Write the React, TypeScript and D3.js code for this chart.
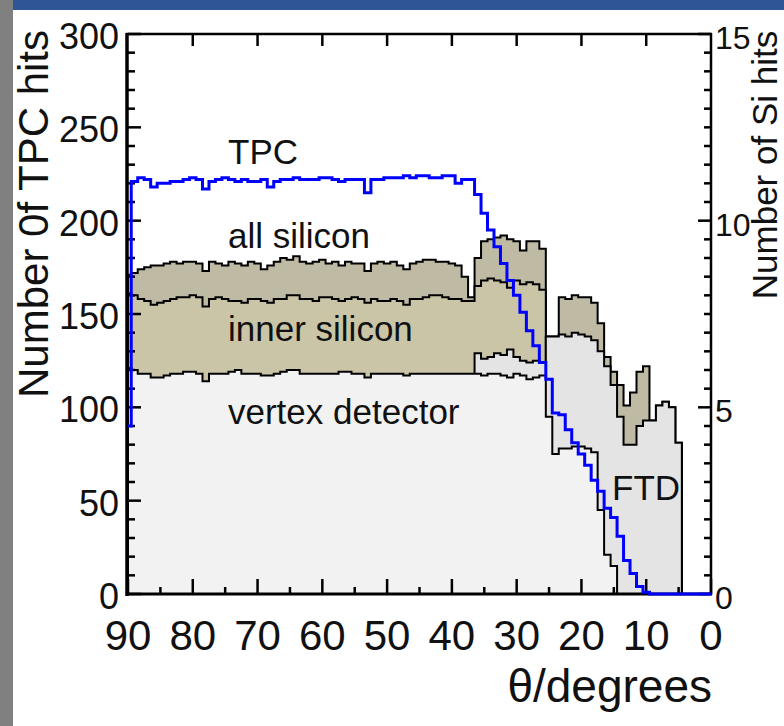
import React from "react";
import * as d3 from "d3";

// theta bin centres, 90 down to 0 (1 degree bins)
const thetas: number[] = d3.range(90, -1, -1);

// values per bin, theta = 90 ... 0
const tpcHits = [
  90,
  221, 223, 222, 218, 220, 220, 221, 221, 222, 223,
  222, 217, 221, 222, 223, 222, 221, 222, 221, 221,
  222, 218, 221, 222, 222, 223, 222, 222, 222, 223,
  223, 222, 221, 222, 222, 222, 215, 222, 222, 223,
  223, 223, 224, 223, 224, 224, 223, 223, 224, 224,
  220, 222, 222, 214, 204, 195, 186, 177, 168, 160,
  151, 141, 133, 124, 115, 97, 96, 88, 81, 75,
  69, 61, 55, 46, 41, 31, 18, 11, 4, 1,
  0, 0, 0, 0, 0, 0, 0, 0, 0, 0,
];

const allSilicon = [
  171,
  172, 174, 175, 176, 176, 177, 178, 177, 178, 178,
  177, 173, 178, 177, 176, 178, 177, 176, 178, 177,
  174, 176, 178, 180, 179, 181, 178, 177, 178, 179,
  177, 178, 176, 178, 177, 177, 173, 177, 178, 177,
  178, 176, 174, 177, 178, 179, 179, 178, 178, 177,
  176, 170, 159, 180, 189, 190, 191, 192, 190, 189,
  184, 189, 189, 185, 138, 138, 159, 158, 160, 159,
  159, 156, 145, 127, 119, 112, 101, 108, 119, 122,
  93, 101, 103, 100, 81, 0, 0, 0, 0, 0,
];

const innerSilicon = [
  161,
  160, 158, 157, 155, 156, 157, 158, 159, 159, 160,
  159, 154, 158, 159, 158, 157, 157, 156, 158, 158,
  157, 156, 158, 158, 160, 160, 158, 158, 157, 159,
  159, 158, 157, 158, 159, 158, 156, 158, 157, 157,
  158, 157, 155, 158, 158, 159, 160, 160, 159, 158,
  158, 157, 157, 165, 168, 169, 168, 167, 164, 168,
  166, 167, 166, 163, 0, 0, 0, 0, 0, 0,
  0, 0, 0, 0, 0, 0, 0, 0, 0, 0,
  0, 0, 0, 0, 0, 0, 0, 0, 0, 0,
];

const ftdHits = [
  0,
  0, 0, 0, 0, 0, 0, 0, 0, 0, 0,
  0, 0, 0, 0, 0, 0, 0, 0, 0, 0,
  0, 0, 0, 0, 0, 0, 0, 0, 0, 0,
  0, 0, 0, 0, 0, 0, 0, 0, 0, 0,
  0, 0, 0, 0, 0, 0, 0, 0, 0, 0,
  0, 0, 0, 129, 126, 127, 129, 128, 131, 127,
  125, 124, 125, 124, 138, 138, 139, 138, 140, 139,
  138, 136, 130, 122, 112, 95, 80, 80, 90, 93,
  93, 101, 103, 100, 81, 0, 0, 0, 0, 0,
];

const vertexHits = [
  121,
  120, 118, 118, 116, 116, 117, 118, 118, 119, 119,
  118, 114, 118, 118, 118, 119, 120, 118, 118, 118,
  117, 117, 118, 119, 120, 120, 118, 118, 118, 118,
  118, 118, 119, 119, 118, 118, 116, 118, 118, 118,
  118, 118, 117, 118, 118, 118, 118, 118, 118, 118,
  118, 118, 118, 118, 117, 118, 118, 117, 116, 118,
  117, 115, 116, 117, 95, 75, 78, 78, 79, 79,
  78, 76, 45, 21, 15, 0, 0, 0, 0, 0,
  0, 0, 0, 0, 0, 0, 0, 0, 0, 0,
];

const xTicks = [90, 80, 70, 60, 50, 40, 30, 20, 10, 0];
const yTicks = [0, 50, 100, 150, 200, 250, 300];
const siTicks = [0, 5, 10, 15];

const labels = [
  { text: "TPC", x: 228, y: 164 },
  { text: "all silicon", x: 228, y: 248 },
  { text: "inner silicon", x: 228, y: 341 },
  { text: "vertex detector", x: 228, y: 424 },
  { text: "FTD", x: 612, y: 500 },
];

const FONT = "'Liberation Sans', Arial, Helvetica, sans-serif";

export default function App() {
  const x = d3.scaleLinear().domain([90, 0]).range([128, 711]);
  const y = d3.scaleLinear().domain([0, 300]).range([594, 34]);
  const ySi = d3.scaleLinear().domain([0, 15]).range([594, 34]);
  const line = d3.line<[number, number]>();

  const stepPoints = (vals: number[]): [number, number][] => {
    const pts: [number, number][] = [];
    thetas.forEach((t, i) => {
      const hi = Math.min(90, t + 0.5);
      const lo = Math.max(0, t - 0.5);
      pts.push([x(hi), y(vals[i])]);
      pts.push([x(lo), y(vals[i])]);
    });
    return pts;
  };
  const areaPath = (vals: number[]) =>
    line([[x(90), y(0)], ...stepPoints(vals), [x(0), y(0)]]) + "Z";

  const fills = [
    { vals: allSilicon, color: "#bebaa4" },
    { vals: innerSilicon, color: "#cbc5a7" },
    { vals: ftdHits, color: "#e4e4e4" },
    { vals: vertexHits, color: "#f2f2f2" },
  ];

  const bottomTicks = d3.range(0, 91, 5);
  const topTicks = d3.range(10, 90, 10);
  const leftTicks = d3.range(0, 301, 10);
  const rightTicks = d3.range(0, 15.01, 0.5);

  return (
    <div style={{ position: "absolute", left: 0, top: 0 }}>
      <svg width={784} height={726} style={{ display: "block", background: "#fff" }}>
        <rect x={0} y={0} width={13} height={726} fill="#808080" />
        <rect x={13} y={0} width={771} height={10} fill="#2f5597" />

        {fills.map((f, i) => (
          <path key={i} d={areaPath(f.vals)} fill={f.color} stroke="#000" strokeWidth={2} strokeLinejoin="miter" />
        ))}

        {/* frame */}
        <line x1={127} x2={127} y1={33} y2={596} stroke="#000" strokeWidth={3.5} />
        <line x1={126} x2={712} y1={594} y2={594} stroke="#000" strokeWidth={3} />
        <line x1={711} x2={711} y1={33} y2={595} stroke="#000" strokeWidth={2.5} />
        <line x1={126} x2={712} y1={34} y2={34} stroke="#000" strokeWidth={2.5} />

        {bottomTicks.map((t) => (
          <line key={"b" + t} x1={x(t)} x2={x(t)} y1={594} y2={594 - (t % 10 === 0 ? 15 : 7)} stroke="#000" strokeWidth={2.5} />
        ))}
        {topTicks.map((t) => (
          <line key={"t" + t} x1={x(t)} x2={x(t)} y1={34} y2={46} stroke="#000" strokeWidth={2.5} />
        ))}
        {leftTicks.map((v) => (
          <line key={"l" + v} x1={128} x2={128 + (v % 50 === 0 ? 13 : 7)} y1={y(v)} y2={y(v)} stroke="#000" strokeWidth={2.5} />
        ))}
        {rightTicks.map((s) => (
          <line key={"r" + s} x1={711} x2={711 - (s % 5 === 0 ? 13 : 7)} y1={ySi(s)} y2={ySi(s)} stroke="#000" strokeWidth={2.5} />
        ))}

        <path d={line(stepPoints(tpcHits)) || ""} fill="none" stroke="#0000ff" strokeWidth={3} />

        <g fontFamily={FONT} fill="#111">
          {yTicks.map((v) => (
            <text key={"yl" + v} x={119} y={y(v) + 15} fontSize={36} textAnchor="end">{v}</text>
          ))}
          {siTicks.map((s) => (
            <text key={"sl" + s} x={715} y={ySi(s) + 15} fontSize={32} textAnchor="start">{s}</text>
          ))}
          {xTicks.map((t) => (
            <text key={"xl" + t} x={x(t)} y={650} fontSize={42} textAnchor="middle">{t}</text>
          ))}
          <text x={712} y={702} fontSize={46} textAnchor="end">θ/degrees</text>
          <text transform="translate(48,214) rotate(-90)" fontSize={42} textAnchor="middle">Number 0f TPC hits</text>
          <text transform="translate(777,165) rotate(-90)" fontSize={35} textAnchor="middle">Number of Si hits</text>
          {labels.map((l) => (
            <text key={l.text} x={l.x} y={l.y} fontSize={35}>{l.text}</text>
          ))}
        </g>
      </svg>
    </div>
  );
}
